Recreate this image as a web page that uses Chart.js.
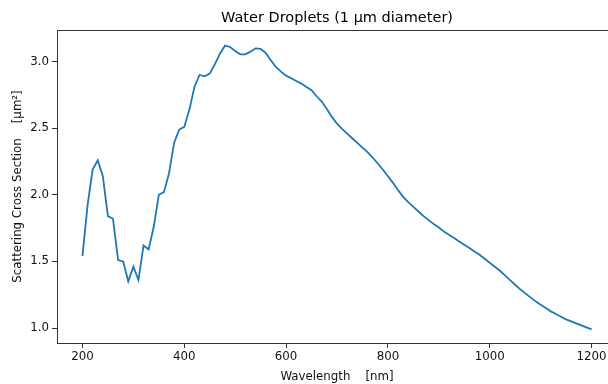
<!DOCTYPE html>
<html>
<head>
<meta charset="utf-8">
<script src="https://cdn.jsdelivr.net/npm/chart.js@4"></script>
<style>
html,body{margin:0;padding:0;background:#fff;overflow:hidden;}
#wrap{width:608px;height:384px;overflow:hidden;position:relative;}
canvas{display:block;}
</style>
</head>
<body>
<div id="wrap"><canvas id="c" width="640" height="384" style="width:640px;height:384px"></canvas></div>
<script>
const chartTitle = "Water Droplets (1 μm diameter)";
const xLabel = "Wavelength    [nm]";
const yLabel = "Scattering Cross Section    [μm²]";
const wavelengths = [200,210,220,230,240,250,260,270,280,290,300,310,320,330,340,350,360,370,380,390,
  400,410,420,430,440,450,460,470,480,490,500,510,520,530,540,550,560,570,580,590,
  600,610,620,630,640,650,660,670,680,690,700,710,720,730,740,750,760,770,780,790,
  800,810,820,830,840,850,860,870,880,890,900,910,920,930,940,950,960,970,980,990,
  1000,1010,1020,1030,1040,1050,1060,1070,1080,1090,1100,1110,1120,1130,1140,1150,1160,1170,1180,1190,1200];
const crossSection = [1.54,1.92,2.19,2.26,2.14,1.84,1.82,1.51,1.50,1.35,1.46,1.36,1.62,1.59,1.76,2.00,2.02,2.16,2.39,2.49,
  2.51,2.64,2.81,2.90,2.89,2.91,2.98,3.06,3.12,3.11,3.08,3.055,3.055,3.075,3.10,3.095,3.065,3.01,2.96,2.925,
  2.895,2.875,2.855,2.835,2.81,2.785,2.74,2.70,2.645,2.585,2.535,2.495,2.46,2.425,2.39,2.355,2.32,2.28,2.235,2.19,
  2.14,2.09,2.035,1.985,1.945,1.91,1.875,1.84,1.81,1.78,1.755,1.725,1.70,1.675,1.65,1.625,1.60,1.575,1.55,1.52,
  1.49,1.46,1.43,1.395,1.36,1.325,1.29,1.26,1.23,1.20,1.175,1.15,1.125,1.105,1.085,1.065,1.05,1.035,1.02,1.005,0.99];
const xTicks = [200,400,600,800,1000,1200];
const yTicks = [1.0,1.5,2.0,2.5,3.0];

const FONT = "'DejaVu Sans', sans-serif";
const frame = {
  id:'frame',
  afterDraw(chart){
    const {ctx, chartArea:a} = chart;
    ctx.save();
    ctx.strokeStyle = '#333';
    ctx.lineWidth = 1;
    ctx.strokeRect(Math.round(a.left)+0.5, Math.round(a.top)+0.5, Math.round(a.right-a.left), Math.round(a.bottom-a.top));
    ctx.fillStyle = '#000';
    ctx.font = "14.5px " + FONT;
    ctx.textAlign = 'center';
    ctx.textBaseline = 'middle';
    ctx.fillText(chartTitle, (a.left + a.right)/2, 18);
    ctx.restore();
  }
};

new Chart(document.getElementById('c'), {
  type: 'line',
  data: {
    datasets: [{
      data: wavelengths.map((w,i)=>({x:w, y:crossSection[i]})),
      borderColor: '#1f77b4',
      borderWidth: 1.8,
      pointRadius: 0,
      tension: 0,
      fill: false
    }]
  },
  options: {
    responsive: false,
    devicePixelRatio: 1,
    animation: false,
    layout: {padding: {left: 0, right: 23, top: 30, bottom: 0}},
    plugins: {legend: {display:false}, tooltip:{enabled:false}, title:{display:false}},
    scales: {
      x: {
        type: 'linear', min: 150, max: 1250,
        afterBuildTicks: s => { s.ticks = xTicks.map(v=>({value:v})); },
        afterFit: s => { s.height = 41; },
        grid: {display:true, drawOnChartArea:false, drawTicks:true, tickLength:5, color:'#333', tickWidth:1},
        border: {display:true, color:'#333', width:1},
        ticks: {color:'#111', font:{family:FONT, size:11.8}, padding:2, maxRotation:0, callback: v => String(v)},
        title: {display:true, text:xLabel, color:'#111', font:{family:FONT, size:11.8}, padding:{top:0,bottom:0}}
      },
      y: {
        type: 'linear', min: 0.8875, max: 3.2375,
        afterBuildTicks: s => { s.ticks = yTicks.map(v=>({value:v})); },
        afterFit: s => { s.width = 57; },
        grid: {display:true, drawOnChartArea:false, drawTicks:true, tickLength:5, color:'#333', tickWidth:1},
        border: {display:true, color:'#333', width:1},
        ticks: {color:'#111', font:{family:FONT, size:11.8}, padding:3, callback: v => v.toFixed(1)},
        title: {display:true, text:yLabel, color:'#111', font:{family:FONT, size:11.8}, padding:{top:11,bottom:0}}
      }
    }
  },
  plugins: [frame]
});
</script>
</body>
</html>
